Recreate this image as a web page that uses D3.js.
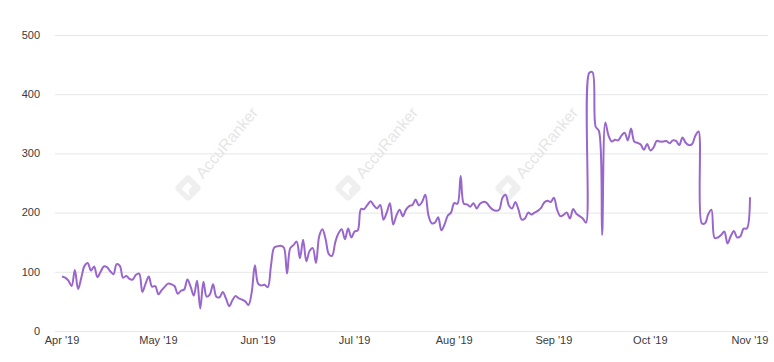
<!DOCTYPE html>
<html>
<head>
<meta charset="utf-8">
<script src="https://cdn.jsdelivr.net/npm/d3@7"></script>
<style>
  body { margin: 0; background: #fff; }
  text { font-family: "Liberation Sans", Arial, sans-serif; }
</style>
</head>
<body>
<div id="chart"></div>
<script>
// daily values, Apr 1 2019 -> Nov 1 2019
var startDate = "2019-04-01"
var aprValues = [92, 90, 85, 76, 103, 71, 90, 110, 115, 102, 109, 91, 100, 109, 108, 101, 96, 113, 110, 90, 93, 88, 87, 95, 97, 66, 80, 92, 75, 76]
var mayValues = [62, 69, 75, 80, 79, 76, 63, 68, 70, 87, 75, 60, 85, 38, 83, 58, 62, 79, 58, 57, 66, 55, 42, 52, 59, 55, 53, 50, 44, 65, 111]
var junValues = [80, 77, 78, 74, 110, 141, 143, 144, 141, 97, 140, 145, 151, 123, 154, 118, 135, 140, 115, 160, 172, 155, 130, 127, 150, 165, 172, 155, 173, 158]
var julValues = [168, 170, 206, 206, 213, 219, 212, 207, 213, 188, 200, 216, 180, 195, 205, 194, 205, 211, 213, 222, 212, 218, 230, 195, 182, 183, 192, 170, 180, 195, 200]
var augValues = [216, 215, 262, 215, 214, 210, 216, 207, 215, 218, 217, 210, 205, 203, 205, 225, 230, 212, 207, 218, 205, 188, 190, 200, 197, 200, 203, 208, 217, 220, 218]
var sepValues = [225, 205, 194, 196, 200, 190, 206, 198, 194, 190, 183, 436, 437, 345, 338, 162, 352, 330, 320, 323, 322, 330, 335, 322, 342, 320, 318, 315, 306, 316]
var octValues = [305, 310, 321, 320, 320, 321, 317, 322, 321, 314, 327, 318, 314, 316, 330, 337, 182, 182, 197, 205, 157, 158, 162, 168, 148, 160, 169, 158, 160, 173, 173]
var novValues = [226]

var yTicks = [0, 100, 200, 300, 400, 500]
var xTickDates = ["2019-04-01", "2019-05-01", "2019-06-01", "2019-07-01", "2019-08-01", "2019-09-01", "2019-10-01", "2019-11-01"]
var xTickLabels = ["Apr '19", "May '19", "Jun '19", "Jul '19", "Aug '19", "Sep '19", "Oct '19", "Nov '19"]
var watermarkText = "AccuRanker"

;(function() {

  var width = 774,
      height = 362

  var parse = d3.utcParse("%Y-%m-%d")
  var values = [].concat(aprValues, mayValues, junValues, julValues, augValues, sepValues, octValues, novValues)
  var datapoints = values.map(function(v, i) {
    return { date: d3.utcDay.offset(parse(startDate), i), value: v }
  })

  var svg = d3.select("#chart")
    .append("svg")
    .attr("width", width)
    .attr("height", height)

  var xScale = d3.scaleUtc()
    .domain([parse(xTickDates[0]), parse(xTickDates[xTickDates.length - 1])])
    .range([62, 750])
  var yScale = d3.scaleLinear().domain([0, 500]).range([331, 35])

  // grid lines
  svg.selectAll(".grid")
    .data(yTicks)
    .enter().append("line")
    .attr("class", "grid")
    .attr("x1", 55)
    .attr("x2", 768)
    .attr("y1", function(d) { return yScale(d) + 0.5 })
    .attr("y2", function(d) { return yScale(d) + 0.5 })
    .attr("stroke", "#e6e6e6")
    .attr("stroke-width", 1)

  // y labels
  svg.selectAll(".ylabel")
    .data(yTicks)
    .enter().append("text")
    .attr("class", "ylabel")
    .attr("x", 40)
    .attr("y", function(d) { return yScale(d) })
    .attr("dy", "0.35em")
    .attr("text-anchor", "end")
    .attr("font-size", 11)
    .attr("fill", "#3a3a3a")
    .text(function(d) { return d })

  // x labels
  svg.selectAll(".xlabel")
    .data(xTickDates)
    .enter().append("text")
    .attr("class", "xlabel")
    .attr("x", function(d) { return xScale(parse(d)) })
    .attr("y", 344)
    .attr("text-anchor", "middle")
    .attr("font-size", 11)
    .attr("fill", "#3a3a3a")
    .text(function(d, i) { return xTickLabels[i] })

  // watermarks
  var marks = svg.selectAll(".mark")
    .data([188, 348, 508])
    .enter().append("g")
    .attr("class", "mark")
    .attr("transform", function(d) { return "translate(" + d + ",188) rotate(-50)" })

  marks.append("rect")
    .attr("x", -10)
    .attr("y", -10)
    .attr("width", 20)
    .attr("height", 20)
    .attr("rx", 4)
    .attr("transform", "rotate(5)")
    .attr("fill", "#efefef")

  marks.append("path")
    .attr("d", "M-5,-4 L4,-4 L4,2 L-1,2 L-5,6 Z")
    .attr("fill", "#fff")

  marks.append("text")
    .attr("x", 16)
    .attr("y", 6)
    .attr("font-size", 16)
    .attr("fill", "#e6e6e6")
    .text(watermarkText)

  // the line
  var line = d3.line()
    .x(function(d) { return xScale(d.date) })
    .y(function(d) { return yScale(d.value) })
    .curve(d3.curveCatmullRom.alpha(0.5))

  svg.append("path")
    .datum(datapoints)
    .attr("d", line)
    .attr("fill", "none")
    .attr("stroke", "#9966cc")
    .attr("stroke-width", 2)
    .attr("stroke-linejoin", "round")
})()
</script>
</body>
</html>
